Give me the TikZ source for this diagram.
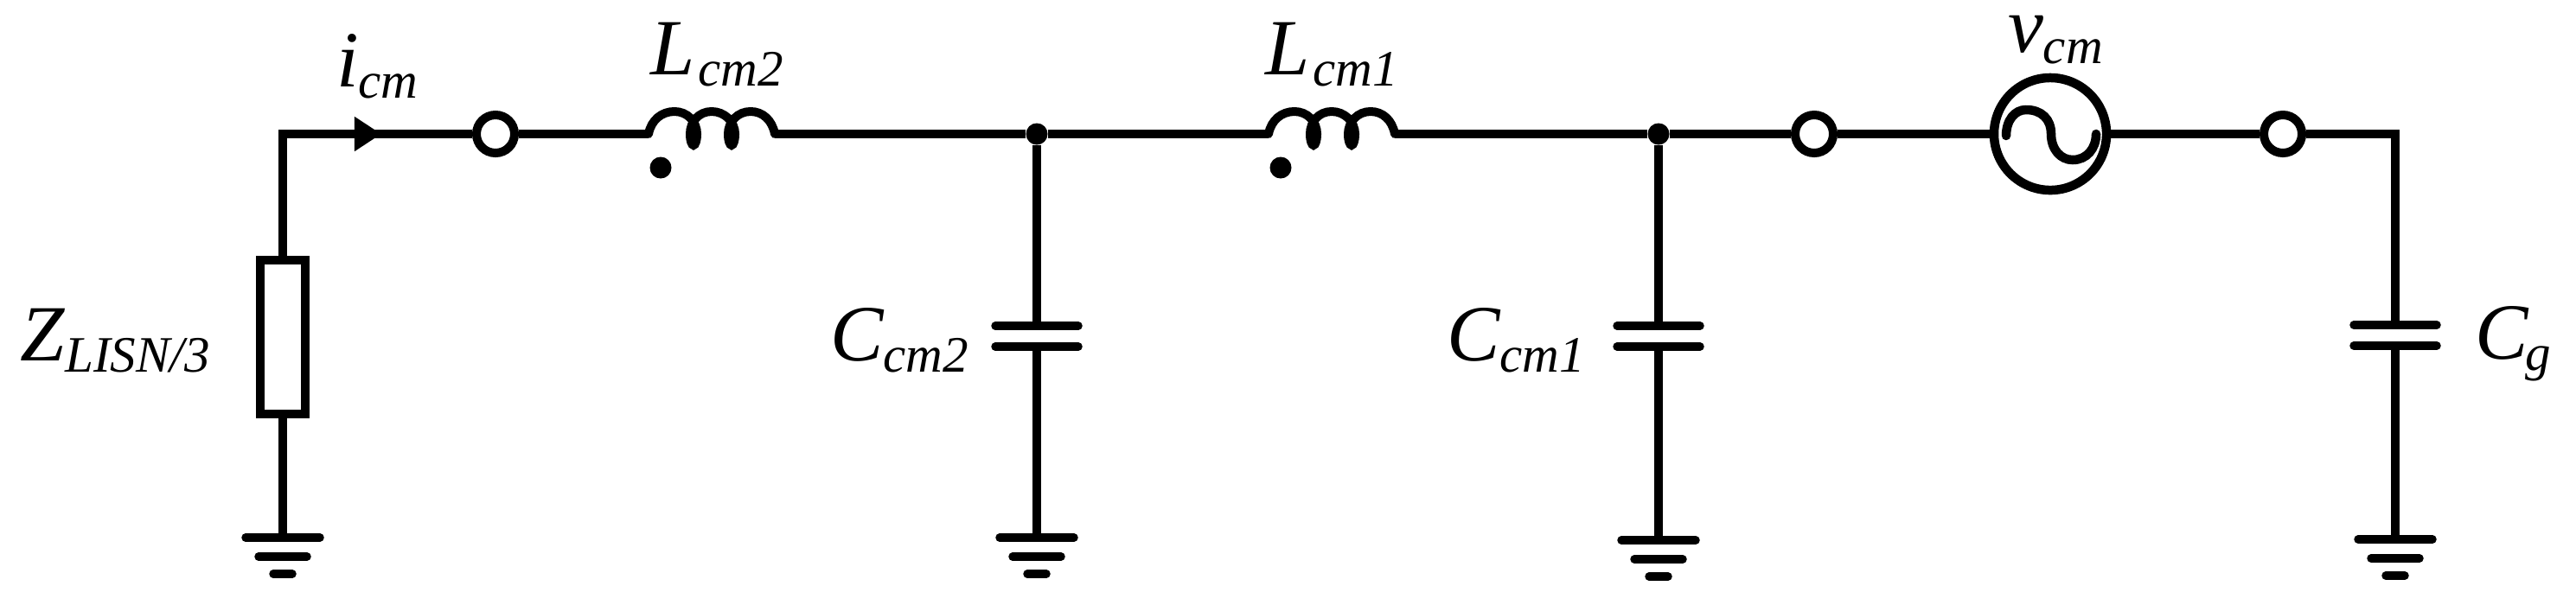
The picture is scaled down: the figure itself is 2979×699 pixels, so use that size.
\documentclass[tikz,border=0pt]{standalone}
\usepackage{fontspec}
\setmainfont{Liberation Serif}
\usetikzlibrary{arrows.meta}
\newcommand{\lbl}[3][-3.7pt]{\fontsize{26.2}{28}\selectfont\itshape #2\raisebox{#1}{\fontsize{16.8}{18}\selectfont\itshape #3}}
\tikzset{
  x=0.01cm,y=-0.01cm,
  wire/.style={line width=0.1cm,line join=miter},
  plate/.style={line width=0.095cm,line cap=round},
  terminal/.style={circle,draw,line width=0.1cm,minimum size=0.44cm,inner sep=0pt},
  junction/.style={circle,fill=black,minimum size=0.25cm,inner sep=0pt},
  dotmark/.style={circle,fill=black,minimum size=0.25cm,inner sep=0pt},
  source/.style={circle,draw,line width=0.105cm,minimum size=1.30cm,inner sep=0pt},
  resistor/.style={rectangle,draw,line width=0.1cm,minimum width=0.52cm,minimum height=1.78cm,inner sep=0pt},
  label/.style={anchor=base west,inner sep=0pt,outer sep=0pt},
  ground/.pic={
    \coordinate (-top) at (0,0);
    \draw[plate] (-43,0) -- (43,0);
    \draw[plate] (-28,22) -- (28,22);
    \draw[plate] (-11,42) -- (11,42);
  },
  capacitor/.pic={
    \coordinate (-a) at (0,-12);
    \coordinate (-b) at (0,12);
    \draw[plate] (-48,-12) -- (48,-12);
    \draw[plate] (-48,12) -- (48,12);
  },
  inductor/.pic={
    \coordinate (-in) at (0,0);
    \coordinate (-out) at (146,0);
    \draw[wire,line cap=round] (0,0) .. controls (3,-16) and (15,-26) .. (30,-26)
      .. controls (45,-26) and (56,-14) .. (56,0)
      .. controls (56,8) and (54,13) .. (52,13)
      .. controls (50,13) and (48,8) .. (48,0)
      .. controls (48,-14) and (58,-26) .. (73,-26)
      .. controls (88,-26) and (100,-14) .. (100,0)
      .. controls (100,8) and (98,13) .. (96,13)
      .. controls (94,13) and (92,8) .. (92,0)
      .. controls (92,-14) and (103,-26) .. (118,-26)
      .. controls (132,-26) and (143,-16) .. (146,0);
  },
}
\begin{document}
\begin{tikzpicture}
\useasboundingbox (0,0) rectangle (2979,699);
% components
\node[resistor] (zl) at (327,390) {};
\coordinate (corner1) at (327,155);
\coordinate (tip) at (441,155);
\node[terminal] (t1) at (573,155) {};
\pic (l2) at (750,155) {inductor};
\node[dotmark] (d2) at (764,194) {};
\node[junction] (j1) at (1199,155) {};
\pic (l1) at (1467,155) {inductor};
\node[dotmark] (d1) at (1481,194) {};
\node[junction] (j2) at (1918,155) {};
\node[terminal] (t2) at (2098,155) {};
\node[source] (src) at (2371,155) {};
\node[terminal] (t3) at (2640,155) {};
\coordinate (corner2) at (2770,155);
\pic (c2) at (1199,389) {capacitor};
\pic (c1) at (1918,389) {capacitor};
\pic (cg) at (2770,388) {capacitor};
\pic (g0) at (327,622) {ground};
\pic (g2) at (1199,622) {ground};
\pic (g1) at (1918,625) {ground};
\pic (g3) at (2770,624) {ground};
% source symbol
\draw[line width=0.105cm,line cap=round] (2320,157) .. controls (2320,139) and (2330,127) .. (2343,127)
  .. controls (2361,127) and (2372,138) .. (2372,155)
  .. controls (2372,173) and (2383,185) .. (2397,185)
  .. controls (2413,185) and (2424,172) .. (2424,155);
% connectors
\draw[wire] (g0-top) -- (zl);
\draw[wire] (zl) -- (corner1) -- (t1);
\draw[wire,-{Triangle[length=0.31cm,width=0.38cm]}] (corner1) -- (tip);
\draw[wire] (t1) -- (l2-in);
\draw[wire] (l2-out) -- (j1) -- (l1-in);
\draw[wire] (l1-out) -- (j2) -- (t2) -- (src) -- (t3);
\draw[wire] (t3) -- (corner2) -- (cg-a);
\draw[wire] (j1) -- (c2-a);
\draw[wire] (c2-b) -- (g2-top);
\draw[wire] (j2) -- (c1-a);
\draw[wire] (c1-b) -- (g1-top);
\draw[wire] (cg-b) -- (g3-top);
% labels
\node[label] (licm) at (389,100) {\lbl{i}{cm}};
\node[label] (ll2) at (752,86) {\lbl{L\kern1.2pt}{cm2}};
\node[label] (ll1) at (1463,86) {\lbl{L\kern1.2pt}{cm1}};
\node[label] (lv) at (2322,60) {\lbl{v}{cm}};
\node[label] (lz) at (24,417) {\lbl{Z}{LISN/3}};
\node[label] (lc2) at (960,417) {\lbl{C}{cm2}};
\node[label] (lc1) at (1673,417) {\lbl{C}{cm1}};
\node[label] (lcg) at (2862,415) {\lbl{C\kern-0.8pt}{g}};
\end{tikzpicture}
\end{document}
